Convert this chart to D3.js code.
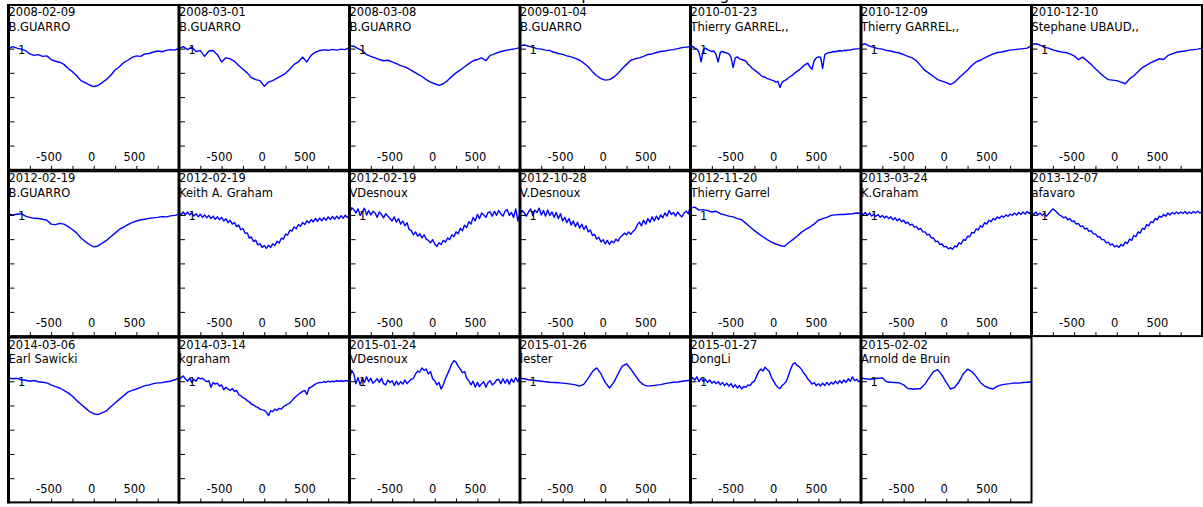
<!DOCTYPE html>
<html>
<head>
<meta charset="utf-8">
<script src="https://cdn.jsdelivr.net/npm/d3@7"></script>
<style>
  body { margin: 0; background: #fff; }
  svg { display: block; }
  text { font-family: "DejaVu Sans", Verdana, sans-serif; font-size: 11.5px; fill: #000; }
</style>
</head>
<body>
<div id="chart"></div>
<script>
// panel headers
const dates = [
  "2008-02-09", "2008-03-01", "2008-03-08", "2009-01-04", "2010-01-23", "2010-12-09", "2010-12-10",
  "2012-02-19", "2012-02-19", "2012-02-19", "2012-10-28", "2012-11-20", "2013-03-24", "2013-12-07",
  "2014-03-06", "2014-03-14", "2015-01-24", "2015-01-26", "2015-01-27", "2015-02-02"
];
const observers = [
  "B.GUARRO", "B.GUARRO", "B.GUARRO", "B.GUARRO", "Thierry GARREL,,", "Thierry GARREL,,", "Stephane UBAUD,,",
  "B.GUARRO", "Keith A. Graham", "VDesnoux", "V.Desnoux", "Thierry Garrel", "K.Graham", "afavaro",
  "Earl Sawicki", "kgraham", "VDesnoux", "lester", "DongLi", "Arnold de Bruin"
];

// normalised flux, sampled evenly from -1000 to +1000 km/s
const prof01 = [
  1.000, 1.008, 1.002, 0.998, 0.992, 0.978, 0.972, 0.975, 0.968, 0.970,
  0.955, 0.948, 0.944, 0.935, 0.918, 0.905, 0.888, 0.868, 0.860, 0.850,
  0.843, 0.848, 0.860, 0.873, 0.890, 0.912, 0.925, 0.942, 0.952, 0.964,
  0.970, 0.968, 0.978, 0.980, 0.986, 0.990, 0.987, 0.993, 0.996, 0.994,
  1.002];
const prof02 = [
  1.000, 1.008, 0.996, 1.006, 0.988, 0.992, 0.968, 0.990, 0.992, 0.975,
  0.945, 0.962, 0.958, 0.948, 0.930, 0.915, 0.900, 0.880, 0.872, 0.868,
  0.845, 0.862, 0.868, 0.878, 0.888, 0.898, 0.915, 0.935, 0.945, 0.965,
  0.945, 0.972, 0.985, 0.992, 0.995, 0.993, 0.997, 0.994, 0.998, 0.996,
  1.005];
const prof03 = [
  1.012, 1.010, 1.000, 0.992, 0.975, 0.968, 0.962, 0.955, 0.950, 0.952,
  0.945, 0.938, 0.930, 0.925, 0.915, 0.905, 0.895, 0.885, 0.872, 0.862,
  0.855, 0.848, 0.855, 0.868, 0.885, 0.900, 0.912, 0.925, 0.938, 0.950,
  0.955, 0.962, 0.950, 0.972, 0.978, 0.985, 0.990, 0.994, 0.997, 1.000,
  1.004];
const prof04 = [
  1.012, 1.015, 1.010, 1.005, 1.000, 0.998, 0.994, 0.992, 0.985, 0.980,
  0.976, 0.970, 0.966, 0.960, 0.952, 0.940, 0.925, 0.905, 0.888, 0.876,
  0.870, 0.872, 0.882, 0.898, 0.918, 0.935, 0.952, 0.958, 0.962, 0.968,
  0.976, 0.978, 0.984, 0.988, 0.990, 0.994, 0.996, 1.000, 1.004, 1.006,
  1.008];
const prof05 = [
  1.004, 1.010, 1.002, 0.998, 0.985, 0.945, 0.995, 1.002, 0.996, 0.992,
  0.988, 0.990, 0.975, 0.945, 0.985, 0.988, 0.984, 0.982, 0.978, 0.965,
  0.922, 0.962, 0.966, 0.958, 0.955, 0.952, 0.948, 0.935, 0.928, 0.918,
  0.912, 0.905, 0.898, 0.890, 0.884, 0.882, 0.876, 0.874, 0.870, 0.868,
  0.862, 0.865, 0.840, 0.862, 0.868, 0.872, 0.880, 0.886, 0.892, 0.900,
  0.906, 0.912, 0.920, 0.928, 0.935, 0.940, 0.925, 0.915, 0.950, 0.962,
  0.966, 0.965, 0.918, 0.975, 0.980, 0.984, 0.985, 0.988, 0.987, 0.990,
  0.991, 0.990, 0.993, 0.992, 0.995, 0.994, 0.997, 0.998, 0.999, 1.000,
  1.002];
const prof06 = [
  1.015, 1.020, 1.010, 1.005, 1.000, 0.998, 0.992, 0.990, 0.985, 0.982,
  0.975, 0.968, 0.962, 0.950, 0.930, 0.910, 0.898, 0.885, 0.872, 0.866,
  0.860, 0.852, 0.862, 0.880, 0.895, 0.912, 0.930, 0.945, 0.952, 0.962,
  0.970, 0.978, 0.984, 0.986, 0.990, 0.994, 0.996, 0.998, 1.000, 1.002,
  1.012];
const prof07 = [
  1.018, 1.020, 1.015, 1.005, 1.002, 0.995, 0.990, 0.986, 0.984, 0.978,
  0.970, 0.955, 0.965, 0.950, 0.935, 0.917, 0.900, 0.885, 0.872, 0.870,
  0.868, 0.862, 0.855, 0.875, 0.888, 0.905, 0.922, 0.932, 0.942, 0.950,
  0.958, 0.955, 0.972, 0.978, 0.985, 0.988, 0.990, 0.994, 0.996, 0.998,
  1.002];
const prof08 = [
  1.002, 1.000, 1.003, 1.005, 0.995, 0.990, 0.986, 0.985, 0.982, 0.978,
  0.962, 0.960, 0.965, 0.962, 0.952, 0.940, 0.925, 0.905, 0.890, 0.878,
  0.868, 0.872, 0.884, 0.895, 0.910, 0.925, 0.940, 0.950, 0.960, 0.968,
  0.975, 0.980, 0.982, 0.986, 0.988, 0.990, 0.993, 0.992, 0.996, 0.998,
  1.003];
const prof09 = [
  1.010, 1.002, 1.012, 1.000, 1.012, 1.000, 1.008, 0.996, 1.005, 0.992,
  1.003, 0.990, 1.000, 0.988, 0.998, 0.985, 0.995, 0.982, 0.992, 0.980,
  0.990, 0.975, 0.984, 0.968, 0.978, 0.962, 0.969, 0.952, 0.958, 0.939,
  0.944, 0.924, 0.926, 0.904, 0.909, 0.890, 0.896, 0.876, 0.882, 0.866,
  0.874, 0.862, 0.875, 0.866, 0.881, 0.874, 0.891, 0.884, 0.904, 0.900,
  0.921, 0.917, 0.937, 0.933, 0.950, 0.943, 0.960, 0.953, 0.969, 0.960,
  0.976, 0.967, 0.981, 0.971, 0.985, 0.974, 0.987, 0.976, 0.989, 0.978,
  0.992, 0.981, 0.994, 0.982, 0.995, 0.984, 0.997, 0.986, 0.999, 0.989,
  1.002];
const prof10 = [
  1.005, 1.030, 1.022, 1.008, 1.025, 0.998, 1.012, 1.028, 1.000, 1.018,
  1.000, 1.015, 1.008, 0.990, 1.012, 1.002, 0.988, 1.005, 0.995, 0.985,
  0.975, 0.992, 0.970, 0.985, 0.962, 0.975, 0.955, 0.968, 0.940, 0.935,
  0.918, 0.930, 0.912, 0.922, 0.905, 0.918, 0.900, 0.895, 0.885, 0.898,
  0.880, 0.870, 0.885, 0.878, 0.895, 0.888, 0.905, 0.898, 0.918, 0.910,
  0.930, 0.922, 0.945, 0.935, 0.958, 0.948, 0.972, 0.962, 0.990, 0.975,
  1.002, 0.985, 1.008, 1.000, 0.990, 1.010, 1.012, 0.995, 1.015, 0.998,
  1.018, 1.005, 0.995, 1.015, 1.022, 0.998, 1.010, 0.990, 1.025, 0.975,
  1.010];
const prof11 = [
  1.000, 1.018, 1.008, 0.995, 1.012, 1.025, 0.998, 1.020, 1.010, 1.028,
  1.000, 1.018, 0.995, 1.020, 0.998, 1.012, 0.990, 1.010, 0.985, 1.005,
  0.975, 0.990, 0.968, 0.985, 0.958, 0.975, 0.952, 0.970, 0.945, 0.962,
  0.940, 0.955, 0.930, 0.938, 0.915, 0.920, 0.900, 0.908, 0.888, 0.898,
  0.880, 0.895, 0.878, 0.892, 0.885, 0.900, 0.892, 0.908, 0.915, 0.925,
  0.918, 0.930, 0.920, 0.932, 0.940, 0.958, 0.970, 0.955, 0.978, 0.962,
  0.985, 0.970, 0.992, 0.975, 0.995, 0.980, 1.000, 0.988, 1.008, 0.995,
  1.018, 1.002, 1.010, 0.995, 1.012, 1.000, 0.992, 1.008, 1.015, 1.005,
  1.038];
const prof12 = [
  1.028, 1.032, 1.020, 1.022, 1.018, 1.012, 1.015, 1.005, 1.000, 0.995,
  0.992, 0.985, 0.980, 0.965, 0.950, 0.935, 0.922, 0.910, 0.898, 0.888,
  0.880, 0.874, 0.870, 0.885, 0.898, 0.912, 0.928, 0.940, 0.950, 0.962,
  0.978, 0.985, 0.990, 0.998, 1.000, 1.002, 1.002, 1.004, 1.005, 1.008,
  1.006];
const prof13 = [
  1.012, 1.000, 1.010, 0.998, 1.008, 0.995, 1.004, 0.994, 1.002, 0.990,
  0.998, 0.988, 0.995, 0.985, 0.992, 0.980, 0.988, 0.976, 0.984, 0.972,
  0.978, 0.965, 0.970, 0.958, 0.962, 0.950, 0.952, 0.940, 0.944, 0.930,
  0.930, 0.918, 0.920, 0.905, 0.905, 0.890, 0.892, 0.878, 0.880, 0.868,
  0.870, 0.860, 0.865, 0.858, 0.872, 0.868, 0.885, 0.880, 0.898, 0.895,
  0.912, 0.910, 0.928, 0.925, 0.942, 0.938, 0.955, 0.950, 0.968, 0.962,
  0.978, 0.972, 0.985, 0.980, 0.992, 0.986, 0.996, 0.990, 1.000, 0.994,
  1.004, 0.998, 1.008, 1.000, 1.010, 1.002, 1.012, 1.004, 1.014, 1.006,
  1.016];
const prof14 = [
  1.010, 1.002, 1.012, 1.000, 1.008, 0.998, 1.006, 0.995, 1.005, 1.015,
  1.025, 1.018, 1.010, 1.000, 0.996, 0.988, 0.992, 0.980, 0.985, 0.972,
  0.975, 0.962, 0.965, 0.952, 0.955, 0.942, 0.945, 0.932, 0.935, 0.922,
  0.922, 0.910, 0.910, 0.898, 0.898, 0.885, 0.888, 0.876, 0.880, 0.868,
  0.874, 0.866, 0.878, 0.872, 0.888, 0.882, 0.900, 0.895, 0.915, 0.910,
  0.930, 0.925, 0.945, 0.940, 0.960, 0.955, 0.972, 0.968, 0.985, 0.980,
  0.995, 0.990, 1.002, 0.995, 1.008, 1.000, 1.010, 1.004, 1.012, 1.005,
  1.012, 1.006, 1.014, 1.005, 1.012, 1.006, 1.014, 1.008, 1.015, 1.008,
  1.012];
const prof15 = [
  1.013, 1.010, 1.012, 1.006, 1.004, 1.000, 1.003, 0.998, 0.996, 0.993,
  0.985, 0.978, 0.972, 0.962, 0.952, 0.938, 0.920, 0.905, 0.890, 0.875,
  0.866, 0.862, 0.870, 0.878, 0.895, 0.910, 0.925, 0.940, 0.955, 0.962,
  0.968, 0.975, 0.982, 0.985, 0.990, 0.993, 0.994, 0.998, 1.000, 1.006,
  1.014];
const prof16 = [
  1.005, 1.015, 1.022, 1.010, 1.000, 1.012, 0.995, 1.008, 1.000, 1.015,
  1.010, 1.012, 1.005, 0.998, 1.002, 0.975, 0.995, 0.988, 0.992, 0.980,
  0.985, 0.965, 0.975, 0.968, 0.962, 0.970, 0.958, 0.962, 0.945, 0.940,
  0.932, 0.928, 0.920, 0.915, 0.905, 0.902, 0.895, 0.892, 0.885, 0.882,
  0.880, 0.872, 0.858, 0.878, 0.875, 0.885, 0.880, 0.888, 0.885, 0.895,
  0.900, 0.905, 0.910, 0.920, 0.930, 0.938, 0.945, 0.952, 0.958, 0.962,
  0.945, 0.972, 0.975, 0.982, 0.988, 0.992, 0.995, 0.994, 0.998, 0.996,
  1.000, 0.997, 1.000, 0.998, 1.002, 1.000, 1.002, 0.999, 1.003, 1.001,
  1.004];
const prof17 = [
  1.005, 1.045, 1.030, 0.990, 1.015, 0.985, 1.012, 0.995, 1.018, 0.998,
  1.012, 0.992, 1.000, 1.010, 0.995, 1.012, 0.990, 0.985, 1.005, 0.995,
  1.002, 0.982, 1.000, 0.985, 0.998, 0.988, 1.005, 0.990, 1.000, 1.008,
  1.012, 1.030, 1.042, 1.038, 1.055, 1.045, 1.050, 1.030, 1.040, 1.010,
  1.002, 0.985, 0.995, 0.968, 0.985, 1.010, 1.030, 1.050, 1.072, 1.085,
  1.078, 1.062, 1.050, 1.035, 1.040, 1.012, 1.002, 0.985, 1.000, 0.975,
  0.995, 0.978, 0.990, 0.998, 0.975, 0.995, 1.002, 0.985, 0.992, 1.005,
  1.008, 0.990, 1.010, 0.992, 1.008, 0.988, 1.010, 0.995, 1.015, 0.998,
  1.018];
const prof18 = [
  1.012, 1.010, 1.006, 1.004, 1.002, 1.000, 0.998, 0.996, 0.995, 0.994,
  0.992, 0.990, 0.988, 0.985, 0.980, 0.988, 1.012, 1.040, 1.055, 1.030,
  0.995, 0.972, 0.995, 1.030, 1.062, 1.072, 1.050, 1.025, 1.000, 0.985,
  0.980, 0.982, 0.984, 0.986, 0.990, 0.993, 0.996, 0.997, 1.000, 1.002,
  1.004];
const prof19 = [
  1.002, 1.015, 1.005, 1.018, 0.998, 1.012, 1.000, 1.008, 0.995, 1.005,
  0.992, 1.000, 0.990, 0.998, 0.985, 0.995, 0.982, 0.992, 0.980, 0.990,
  0.975, 0.985, 0.972, 0.982, 0.968, 0.978, 0.975, 0.985, 0.982, 0.995,
  1.000, 1.020, 1.040, 1.050, 1.042, 1.058, 1.048, 1.040, 1.015, 1.000,
  0.985, 0.975, 0.970, 0.982, 0.990, 1.000, 1.025, 1.050, 1.070, 1.076,
  1.065, 1.060, 1.050, 1.035, 1.025, 1.010, 1.000, 0.988, 0.995, 0.982,
  0.990, 0.980, 0.992, 0.982, 0.995, 0.984, 0.996, 0.988, 1.000, 0.990,
  1.002, 0.992, 1.005, 0.995, 1.010, 1.000, 1.018, 1.002, 1.008, 0.998,
  1.004];
const prof20 = [
  1.012, 1.010, 1.008, 1.010, 1.012, 1.014, 0.998, 0.996, 0.995, 0.993,
  0.985, 0.970, 0.968, 0.968, 0.970, 0.988, 1.015, 1.040, 1.048, 1.025,
  0.995, 0.968, 0.975, 0.998, 1.030, 1.050, 1.040, 1.020, 0.995, 0.980,
  0.972, 0.968, 0.980, 0.985, 0.988, 0.990, 0.993, 0.992, 0.995, 0.996,
  0.998];

const profiles = [prof01, prof02, prof03, prof04, prof05, prof06, prof07,
  prof08, prof09, prof10, prof11, prof12, prof13, prof14,
  prof15, prof16, prof17, prof18, prof19, prof20];

const velocityRange = [-1000, 1000];
const fluxRange = [0.5, 1.18];
const xTicks = [-750, -500, -250, 0, 250, 500, 750];
const xTickLabels = [-500, 0, 500];
const yTicks = [0.6, 0.7, 0.8, 0.9, 1];
const yTickLabels = [1];

const width = 1203, height = 507;
const nCols = 7;
const left0 = 8.5, top0 = 5;
const pitchX = 170.5, pitchY = 166.3;
const pw = pitchX, ph = pitchY - 1.5;

const svg = d3.select("#chart").append("svg")
  .attr("width", width)
  .attr("height", height);

// title, mostly above the visible area (as in the original)
svg.append("text")
  .attr("x", 571).attr("y", -0.5)
  .style("font-size", "16px")
  .text("Spectral monitoring");

const x = d3.scaleLinear().domain(velocityRange).range([0, pw]);
const y = d3.scaleLinear().domain(fluxRange).range([ph, 0]);

const line = d3.line()
  .x(d => x(d[0]))
  .y(d => y(d[1]));

profiles.forEach((flux, k) => {
  const col = k % nCols, row = Math.floor(k / nCols);
  const g = svg.append("g")
    .attr("transform", `translate(${left0 + col * pitchX},${top0 + row * pitchY})`);

  // evenly spaced velocity grid for this spectrum
  const n = flux.length;
  const vel = d3.range(n).map(i => velocityRange[0] + i * (velocityRange[1] - velocityRange[0]) / (n - 1));
  const pts = d3.zip(vel, flux);

  g.append("path")
    .datum(pts)
    .attr("fill", "none")
    .attr("stroke", "#0000ff")
    .attr("stroke-width", 1.4)
    .attr("stroke-linejoin", "round")
    .attr("d", line);

  // y ticks, inward, only "1" labelled
  g.append("g")
    .call(d3.axisLeft(y).tickValues(yTicks).tickSize(-6)
      .tickFormat(d => yTickLabels.includes(d) ? String(d) : ""))
    .call(a => a.select(".domain").remove())
    .call(a => a.selectAll("text")
      .attr("x", 9.5).attr("y", 4.5).attr("dy", null)
      .attr("text-anchor", "start"));

  // x ticks, inward, labels inside the panel
  g.append("g")
    .attr("transform", `translate(0,${ph})`)
    .call(d3.axisBottom(x).tickValues(xTicks).tickSize(-4)
      .tickFormat(d => xTickLabels.includes(d) ? String(d) : ""))
    .call(a => a.select(".domain").remove())
    .call(a => a.selectAll("text")
      .attr("y", -9).attr("dy", null).attr("dx", -2.5));

  g.append("text").attr("x", 0).attr("y", 11).text(dates[k]);
  g.append("text").attr("x", 0).attr("y", 25.5).text(observers[k]);

  // frame
  g.append("rect")
    .attr("width", pw).attr("height", ph)
    .attr("fill", "none")
    .attr("stroke", "#000")
    .attr("stroke-width", 2);
  g.append("line")
    .attr("x1", 0).attr("x2", 0)
    .attr("y1", -1).attr("y2", ph + 1)
    .attr("stroke", "#000")
    .attr("stroke-width", 3);
});
</script>
</body>
</html>
